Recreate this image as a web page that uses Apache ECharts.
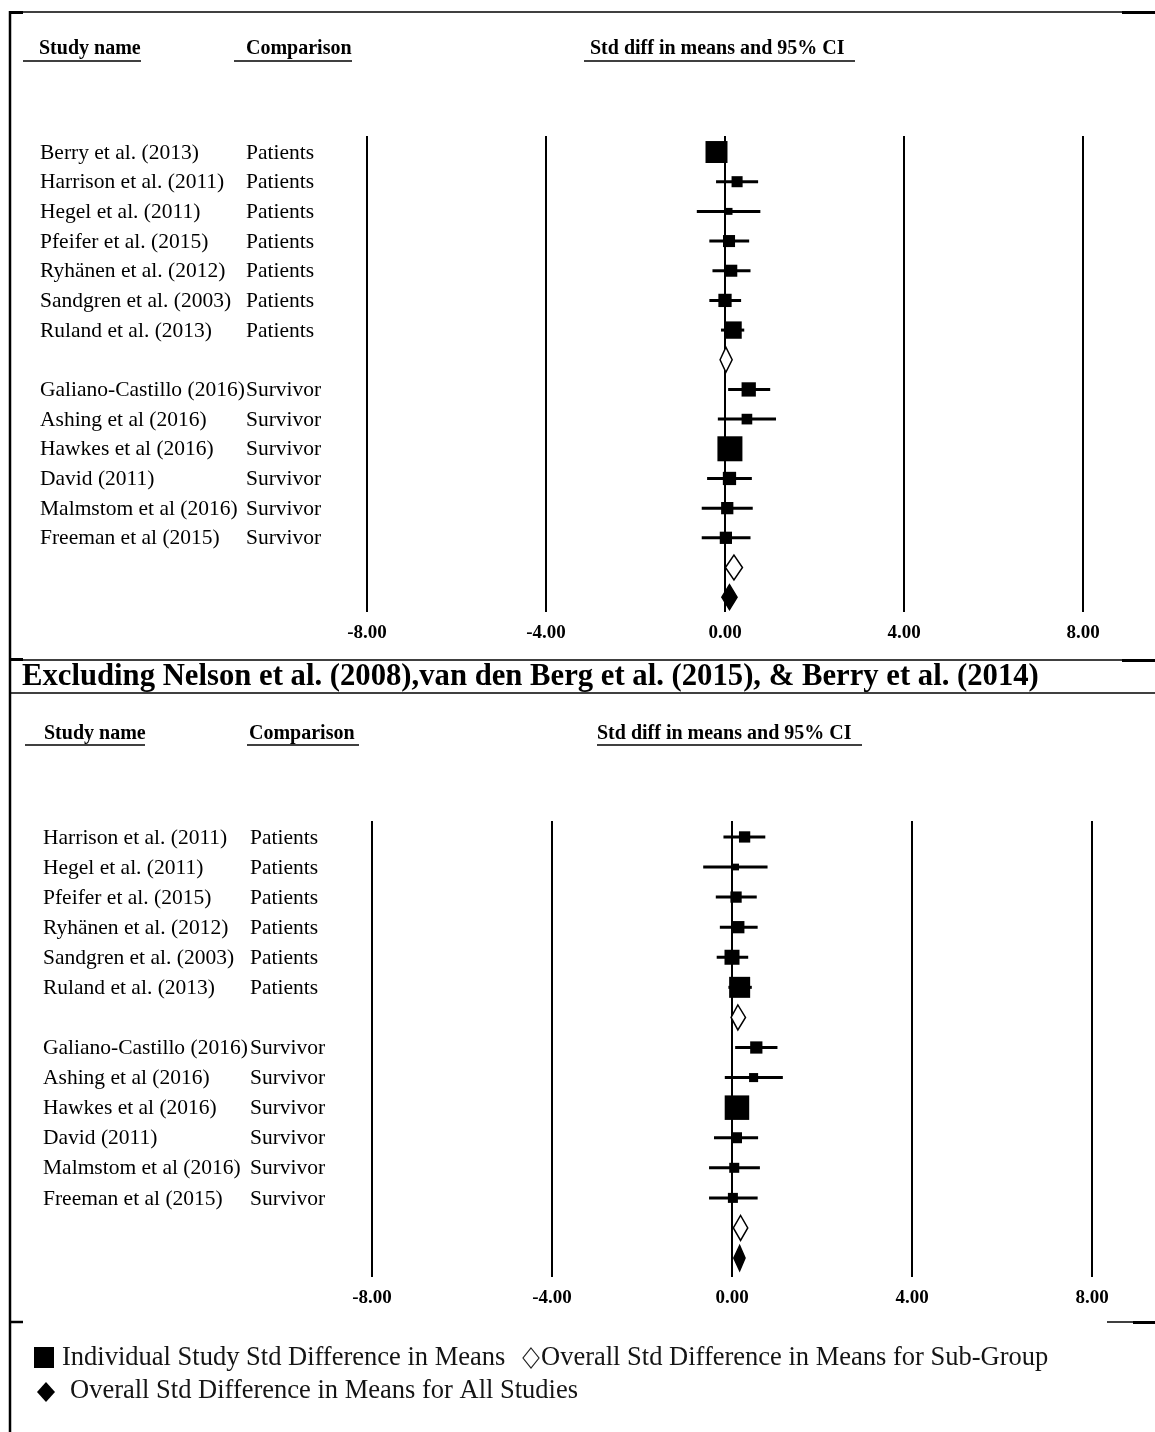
<!DOCTYPE html>
<html><head><meta charset="utf-8">
<script src="https://cdn.jsdelivr.net/npm/echarts/dist/echarts.min.js"></script>
<style>html,body{margin:0;padding:0;background:#fff}#c{width:1155px;height:1432px}</style>
</head><body><div id="c"></div>
<script>
// ---------------- DATA ----------------
const xTicks = [-8, -4, 0, 4, 8];

// Top panel (all studies)
const topPatients = ["Berry et al. (2013)", "Harrison et al. (2011)", "Hegel et al. (2011)", "Pfeifer et al. (2015)", "Ryhänen et al. (2012)", "Sandgren et al. (2003)", "Ruland et al. (2013)"];
const topSurvivors = ["Galiano-Castillo (2016)", "Ashing et al (2016)", "Hawkes et al (2016)", "David (2011)", "Malmstom et al (2016)", "Freeman et al (2015)"];
const topEst  = [-0.19, 0.27, 0.09, 0.09, 0.14, 0.00, 0.18,   0.53, 0.49, 0.11, 0.10, 0.05, 0.02];
const topLo   = [-0.35, -0.20, -0.63, -0.35, -0.28, -0.35, -0.09,  0.07, -0.16, -0.05, -0.40, -0.52, -0.52];
const topHi   = [-0.03, 0.74, 0.79, 0.54, 0.57, 0.36, 0.43,   1.01, 1.14, 0.27, 0.60, 0.62, 0.57];
const topWeight = [17.0, 4.3, 1.7, 5.1, 5.1, 6.2, 10.6,  7.2, 4.0, 22.0, 6.2, 5.3, 5.3];
const topSubEst = [0.02, 0.20];
const topSubLo  = [-0.11, 0.01];
const topSubHi  = [0.16, 0.39];
const topOverall = [0.10, -0.07, 0.27]; // est, lo, hi

// Bottom panel (excluding Nelson, van den Berg, Berry 2014)
const botPatients = ["Harrison et al. (2011)", "Hegel et al. (2011)", "Pfeifer et al. (2015)", "Ryhänen et al. (2012)", "Sandgren et al. (2003)", "Ruland et al. (2013)"];
const botSurvivors = ["Galiano-Castillo (2016)", "Ashing et al (2016)", "Hawkes et al (2016)", "David (2011)", "Malmstom et al (2016)", "Freeman et al (2015)"];
const botEst  = [0.28, 0.08, 0.09, 0.14, 0.00, 0.17,   0.54, 0.48, 0.11, 0.10, 0.05, 0.02];
const botLo   = [-0.19, -0.64, -0.36, -0.27, -0.34, -0.08,  0.07, -0.16, -0.05, -0.40, -0.51, -0.51];
const botHi   = [0.74, 0.79, 0.55, 0.57, 0.36, 0.44,   1.01, 1.13, 0.27, 0.58, 0.62, 0.57];
const botWeight = [5.6, 2.0, 5.6, 6.6, 9.9, 19.4,  6.6, 3.6, 26.4, 5.3, 4.4, 4.4];
const botSubEst = [0.13, 0.19];
const botSubLo  = [-0.02, 0.03];
const botSubHi  = [0.30, 0.35];
const botOverall = [0.17, 0.04, 0.29];

const groupLabels = ["Patients", "Survivor"];
const headers = ["Study name", "Comparison", "Std diff in means and 95% CI"];
const titleText = "Excluding Nelson et al. (2008),van den Berg et al. (2015), & Berry et al. (2014)";
const legendTexts = ["Individual Study Std Difference in Means", "Overall Std Difference in Means for Sub-Group", "Overall Std Difference in Means for All Studies"];

// ---------------- BUILD ----------------
const SERIF = "'Liberation Serif','Times New Roman',serif";

function buildPanel(names1, names2, est, lo, hi, w, subEst, subLo, subHi, overall) {
  const n1 = names1.length, n2 = names2.length;
  const studies = [], labels = [], subs = [];
  for (let i = 0; i < n1; i++) {
    studies.push([est[i], i, lo[i], hi[i], w[i]]);
    labels.push({row: i, name: names1[i], comp: groupLabels[0]});
  }
  subs.push([subEst[0], n1, subLo[0], subHi[0]]);
  for (let j = 0; j < n2; j++) {
    const k = n1 + j;
    studies.push([est[k], n1 + 1 + j, lo[k], hi[k], w[k]]);
    labels.push({row: n1 + 1 + j, name: names2[j], comp: groupLabels[1]});
  }
  subs.push([subEst[1], n1 + 1 + n2, subLo[1], subHi[1]]);
  const all = [[overall[0], n1 + n2 + 2, overall[1], overall[2]]];
  return {studies, labels, subs, all};
}

const panelA = buildPanel(topPatients, topSurvivors, topEst, topLo, topHi, topWeight, topSubEst, topSubLo, topSubHi, topOverall);
const panelB = buildPanel(botPatients, botSurvivors, botEst, botLo, botHi, botWeight, botSubEst, botSubLo, botSubHi, botOverall);

function studyRender(k) {
  return function (params, api) {
    const c = api.coord([api.value(0), api.value(1)]);
    const a = api.coord([api.value(2), api.value(1)]);
    const b = api.coord([api.value(3), api.value(1)]);
    const s = Math.sqrt(api.value(4)) * k;
    return {type: 'group', children: [
      {type: 'line', shape: {x1: a[0], y1: c[1], x2: b[0], y2: c[1]}, style: {stroke: '#000', lineWidth: 3}},
      {type: 'rect', shape: {x: c[0] - s / 2, y: c[1] - s / 2, width: s, height: s}, style: {fill: '#000'}}
    ]};
  };
}
function diamondRender(fill) {
  return function (params, api) {
    const c = api.coord([api.value(0), api.value(1)]);
    const a = api.coord([api.value(2), api.value(1)]);
    const b = api.coord([api.value(3), api.value(1)]);
    const h = 12.5;
    return {type: 'polygon', shape: {points: [[a[0], c[1]], [c[0], c[1] - h], [b[0], c[1]], [c[0], c[1] + h]]},
      style: {fill: fill, stroke: '#000', lineWidth: 1.5}};
  };
}
function labelRender(labels, xName, xComp) {
  return function (params, api) {
    const c = api.coord([0, api.value(1)]);
    const L = labels[params.dataIndex];
    return {type: 'group', children: [
      {type: 'text', x: xName, y: c[1] + 1, style: {text: L.name, fill: '#000', font: '21.5px ' + SERIF, verticalAlign: 'middle', align: 'left'}},
      {type: 'text', x: xComp, y: c[1] + 1, style: {text: L.comp, fill: '#000', font: '21.5px ' + SERIF, verticalAlign: 'middle', align: 'left'}}
    ]};
  };
}

function xAxisCfg(gi) {
  return {
    type: 'value', gridIndex: gi, min: xTicks[0], max: xTicks[xTicks.length - 1], interval: 4,
    axisLine: {show: false}, axisTick: {show: false},
    splitLine: {show: true, lineStyle: {color: '#000', width: 2}},
    axisLabel: {margin: 12, color: '#000', fontWeight: 'bold', fontSize: 19, fontFamily: SERIF,
      formatter: v => v.toFixed(2)}
  };
}
function yAxisCfg(gi, min, max) {
  return {type: 'value', gridIndex: gi, inverse: true, min: min, max: max, show: false, splitLine: {show: false}};
}

// graphic helpers
function hline(x1, x2, y, w) { return {type: 'line', shape: {x1, y1: y, x2, y2: y}, style: {stroke: '#000', lineWidth: w}, z: 100}; }
function vline(x, y1, y2, w) { return {type: 'line', shape: {x1: x, y1, x2: x, y2}, style: {stroke: '#000', lineWidth: w}, z: 100}; }
function txt(s, x, y, font, fill, align) { return {type: 'text', x, y, style: {text: s, font, fill: fill || '#000', verticalAlign: 'middle', align: align || 'left'}, z: 100}; }

const HFONT = 'bold 20px ' + SERIF;
const LFONT = '26.5px ' + SERIF;
const graphics = [
  // frame
  vline(10, 11, 1432, 2.5),
  hline(10, 1122, 12, 1.5), hline(1122, 1155, 12.5, 3), hline(9, 23, 12.5, 3),
  hline(10, 1155, 660, 1.5), hline(9, 23, 659.5, 3), hline(1122, 1155, 660.5, 3),
  hline(10, 1155, 693, 1.5),
  hline(9, 23, 1322, 2.5), hline(1107, 1133, 1322, 1.5), hline(1133, 1155, 1322.5, 3),
  // top headers
  txt(headers[0], 39, 49, HFONT), hline(23, 141, 61, 1.5),
  txt(headers[1], 246, 49, HFONT), hline(234, 352, 61, 1.5),
  txt(headers[2], 590, 49, HFONT), hline(584, 855, 61, 1.5),
  // title
  txt(titleText, 22, 677, 'bold 30.7px ' + SERIF),
  // bottom headers
  txt(headers[0], 44, 734, HFONT), hline(25, 145, 745, 1.5),
  txt(headers[1], 249, 734, HFONT), hline(247, 359, 745, 1.5),
  txt(headers[2], 597, 734, HFONT), hline(597, 862, 745, 1.5),
  // legend
  {type: 'rect', shape: {x: 34, y: 1347, width: 20, height: 21}, style: {fill: '#000'}, z: 100},
  txt(legendTexts[0], 62, 1358, LFONT, '#141414'),
  {type: 'polygon', shape: {points: [[531, 1348], [539, 1358], [531, 1368], [523, 1358]]}, style: {fill: '#fff', stroke: '#222', lineWidth: 1.2}, z: 100},
  txt(legendTexts[1], 541, 1358, LFONT, '#141414'),
  {type: 'polygon', shape: {points: [[46, 1382], [55, 1392], [46, 1402], [37, 1392]]}, style: {fill: '#000'}, z: 100},
  txt(legendTexts[2], 70, 1391, LFONT, '#141414')
];

const chart = echarts.init(document.getElementById('c'), null, {renderer: 'canvas'});
chart.setOption({
  backgroundColor: '#fff',
  animation: false,
  grid: [
    {left: 367, top: 136, width: 716, height: 476, outerBoundsMode: 'none', containLabel: false},
    {left: 372, top: 821, width: 720, height: 456, outerBoundsMode: 'none', containLabel: false}
  ],
  xAxis: [xAxisCfg(0), xAxisCfg(1)],
  yAxis: [yAxisCfg(0, -0.54, 15.5), yAxisCfg(1, -0.53, 14.63)],
  series: [
    {type: 'custom', xAxisIndex: 0, yAxisIndex: 0, data: panelA.labels.map(l => [0, l.row]), renderItem: labelRender(panelA.labels, 40, 246), silent: true},
    {type: 'custom', xAxisIndex: 0, yAxisIndex: 0, data: panelA.studies, renderItem: studyRender(5.33), z: 3},
    {type: 'custom', xAxisIndex: 0, yAxisIndex: 0, data: panelA.subs, renderItem: diamondRender('#fff'), z: 3},
    {type: 'custom', xAxisIndex: 0, yAxisIndex: 0, data: panelA.all, renderItem: diamondRender('#000'), z: 3},
    {type: 'custom', xAxisIndex: 1, yAxisIndex: 1, data: panelB.labels.map(l => [0, l.row]), renderItem: labelRender(panelB.labels, 43, 250), silent: true},
    {type: 'custom', xAxisIndex: 1, yAxisIndex: 1, data: panelB.studies, renderItem: studyRender(4.77), z: 3},
    {type: 'custom', xAxisIndex: 1, yAxisIndex: 1, data: panelB.subs, renderItem: diamondRender('#fff'), z: 3},
    {type: 'custom', xAxisIndex: 1, yAxisIndex: 1, data: panelB.all, renderItem: diamondRender('#000'), z: 3}
  ],
  graphic: graphics
});
</script>
</body></html>
